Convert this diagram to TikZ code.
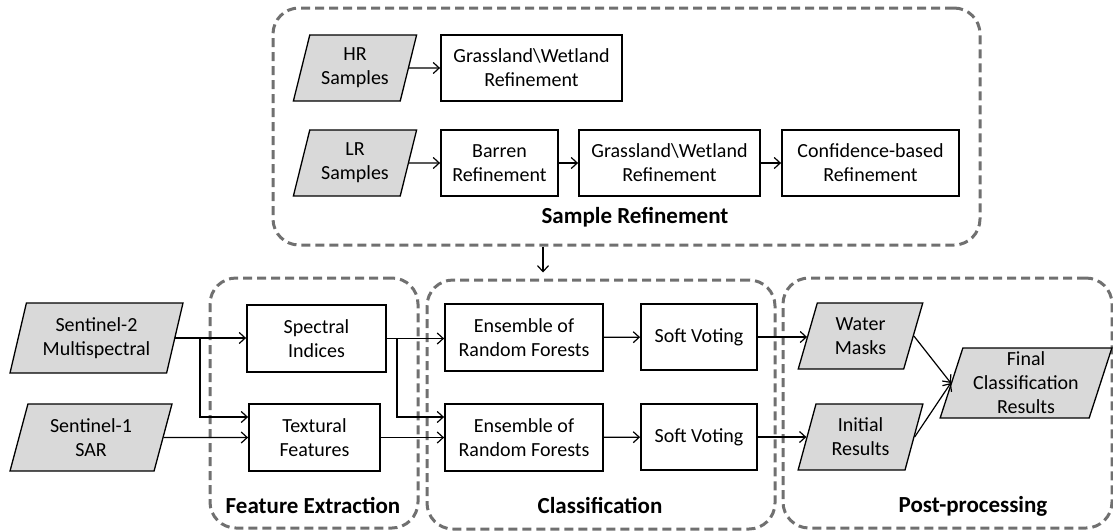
\documentclass[tikz,border=0pt]{standalone}
\usepackage{fontspec}
\setmainfont{Carlito}
\usetikzlibrary{shapes.geometric,arrows.meta}
\definecolor{parafill}{RGB}{217,217,217}
\definecolor{dashgray}{RGB}{112,112,112}
\tikzset{
  txt/.style={font=\fontsize{20}{24}\selectfont, align=center},
  box/.style={txt, draw=black, line width=1.8pt, rectangle, inner sep=0pt},
  para/.style={txt, draw=black, line width=1.3pt, fill=parafill, trapezium, trapezium stretches=true,
     trapezium left angle=73, trapezium right angle=107, inner sep=0pt},
  group/.style={draw=dashgray, line width=3pt, dash pattern=on 9pt off 5pt, rounded corners=26pt, rectangle, inner sep=0pt},
  glabel/.style={font=\fontsize{23}{27}\selectfont\bfseries, anchor=base},
  arr/.style={line width=1.2pt, -{Straight Barb[length=6pt,width=11pt,line width=1.2pt]}},
}
\begin{document}
\begin{tikzpicture}[x=1pt,y=-1pt]
\useasboundingbox (0,0) rectangle (1113,531);
% containers
\node[group, minimum width=707, minimum height=237] (sr) at (626.5,126.5) {};
\node[group, minimum width=208, minimum height=250] (fe) at (314,403) {};
\node[group, minimum width=348, minimum height=249] (cl) at (601,404.5) {};
\node[group, minimum width=329, minimum height=250] (pp) at (947.5,403) {};
\node[glabel] (srl) at (635,223) {Sample Refinement};
\node[glabel] (fel) at (313,513) {Feature Extraction};
\node[glabel] (cll) at (600,513) {Classification};
\node[glabel] (ppl) at (973,512) {Post-processing};
% sample refinement
\node[para, minimum width=124, minimum height=66] (hr) at (355,68) {HR\\Samples};
\node[box, minimum width=181, minimum height=66] (g1) at (531.5,68) {Grassland\textbackslash Wetland\\Refinement};
\node[para, minimum width=124, minimum height=66] (lr) at (355,163) {LR\\Samples};
\node[box, minimum width=117, minimum height=66] (barren) at (499.5,163) {Barren\\Refinement};
\node[box, minimum width=181, minimum height=66] (g2) at (669.5,163) {Grassland\textbackslash Wetland\\Refinement};
\node[box, minimum width=177, minimum height=66] (conf) at (870.5,163) {Confidence-based\\Refinement};
% inputs
\node[para, minimum width=173, minimum height=70] (s2) at (96.5,338) {Sentinel-2\\Multispectral};
\node[para, minimum width=162, minimum height=67] (s1) at (91,437.5) {Sentinel-1\\SAR};
% feature extraction
\node[box, minimum width=139, minimum height=67] (spec) at (316.5,338.5) {Spectral\\Indices};
\node[box, minimum width=131, minimum height=67] (tex) at (314.5,437.5) {Textural\\Features};
% classification
\node[box, minimum width=158, minimum height=67] (ens1) at (524,337.5) {Ensemble of\\Random Forests};
\node[box, minimum width=116, minimum height=66] (sv1) at (699,337) {Soft Voting};
\node[box, minimum width=158, minimum height=67] (ens2) at (524,437.5) {Ensemble of\\Random Forests};
\node[box, minimum width=116, minimum height=66] (sv2) at (699,437) {Soft Voting};
% post-processing
\node[para, minimum width=125, minimum height=66] (wm) at (860.5,336) {Water\\Masks};
\node[para, minimum width=125, minimum height=66] (ir) at (860.5,437) {Initial\\Results};
\node[para, minimum width=172, minimum height=70] (fin) at (1026,383) {Final\\Classification\\Results};
% helper coordinates
\coordinate (srx) at (543,0);
\coordinate (b1) at (200,417);
\coordinate (b2) at (397,417);
% connectors
\draw[arr] (hr) -- (g1);
\draw[arr] (lr) -- (barren);
\draw[arr] (barren) -- (g2);
\draw[arr] (g2) -- (conf);
\draw[arr] (sr.south -| srx) -- ([yshift=6pt]cl.north -| srx);
\draw[arr] (s2.east) -- (spec.west |- s2.east);
\draw[arr] (s2.east -| b1) -- (b1) -- (tex.west |- b1);
\draw[arr] (s1.east) -- (tex.west);
\draw[arr] (spec.east) -- (ens1.west |- spec.east);
\draw[arr] (spec.east -| b2) -- (b2) -- (ens2.west |- b2);
\draw[arr] (tex.east) -- (ens2.west |- tex.east);
\draw[arr] (ens1) -- (sv1);
\draw[arr] (ens2) -- (sv2);
\draw[arr] (sv1.east) -- (wm.west |- sv1.east);
\draw[arr] (sv2.east) -- (ir.west |- sv2.east);
\draw[arr] (wm.east) -- (fin.west);
\draw[arr] (ir.east) -- (fin.west);
\end{tikzpicture}
\end{document}
